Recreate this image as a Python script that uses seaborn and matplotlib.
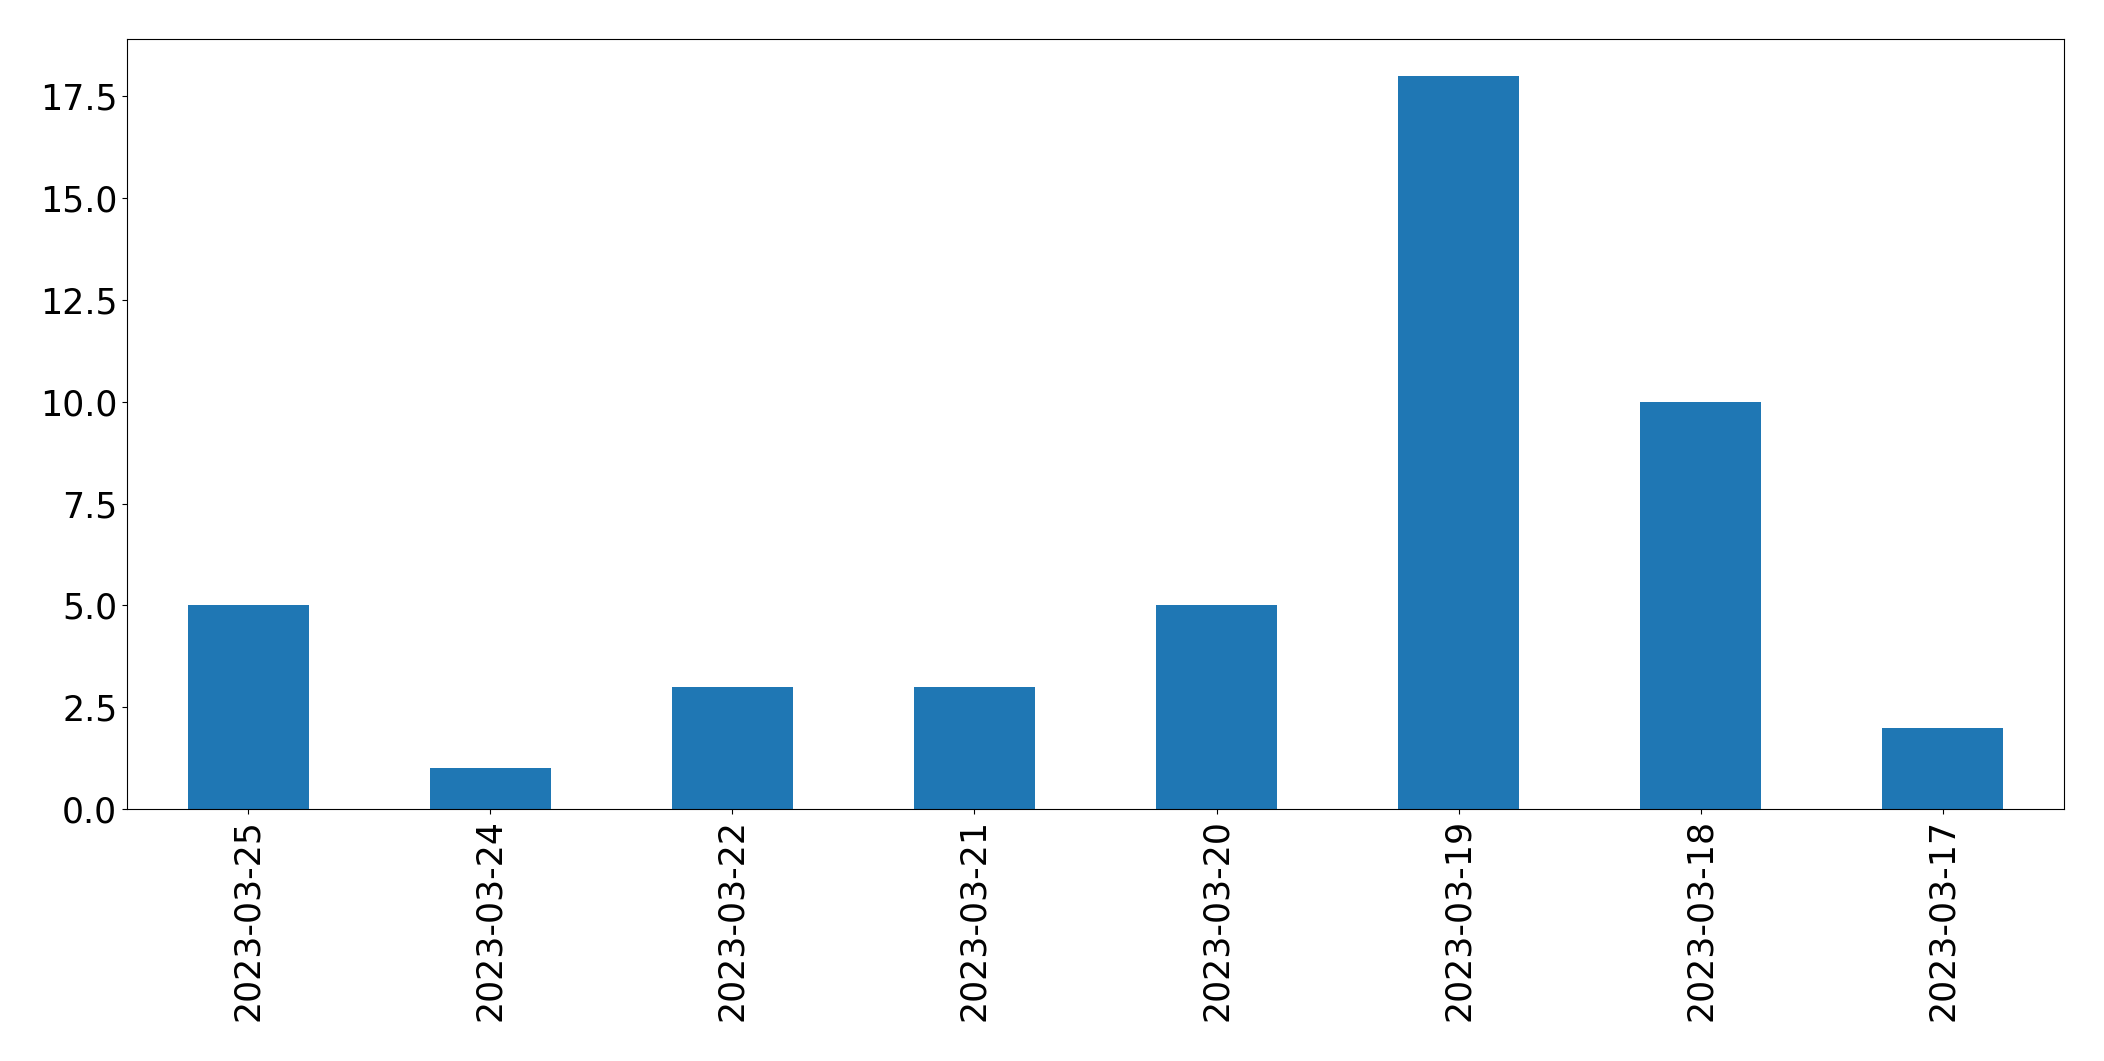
import matplotlib
matplotlib.use('Agg')
import pandas as pd
import matplotlib.pyplot as plt
import seaborn as sns

# Dados
datas = ['2023-03-25', '2023-03-24', '2023-03-22', '2023-03-21',
         '2023-03-20', '2023-03-19', '2023-03-18', '2023-03-17']
contagens = [5, 1, 3, 3, 5, 18, 10, 2]

df = pd.DataFrame({'data': datas, 'contagem': contagens})

fig, ax = plt.subplots(figsize=(21.04, 10.61), dpi=100)
sns.barplot(data=df, x='data', y='contagem', color='#1f77b4', width=0.5,
            saturation=1, linewidth=0, ax=ax)

ax.set_xlim(-0.5, len(datas) - 0.5)
ax.set_ylim(0, 18.9)
ax.set_xlabel('')
ax.set_ylabel('')
ax.tick_params(axis='both', labelsize=25)
for s in ax.spines.values():
    s.set_color('black')
plt.xticks(rotation=90)

plt.subplots_adjust(left=0.0604, right=0.981, top=0.963, bottom=0.2375)
plt.savefig('out.png', dpi=100)
